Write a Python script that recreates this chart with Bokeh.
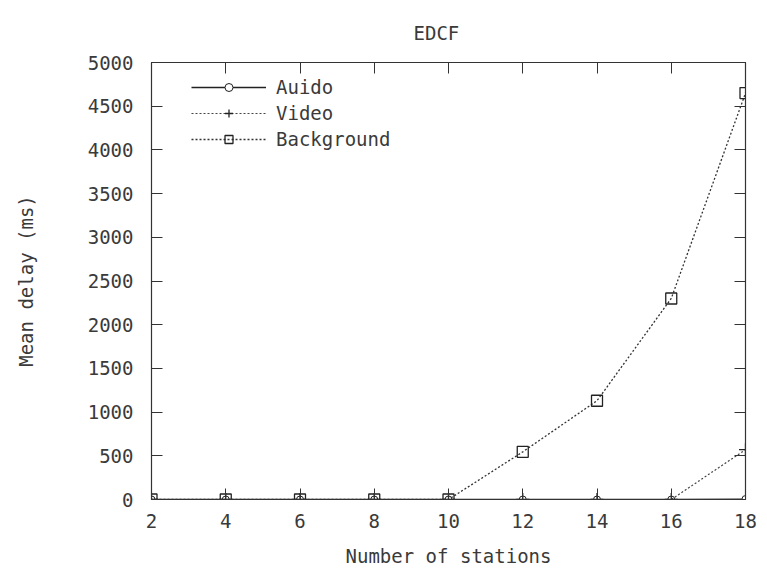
from bokeh.plotting import figure
from bokeh.models import Range1d, LinearAxis, Legend, LegendItem, FixedTicker
from bokeh.embed import file_html
from bokeh.resources import INLINE

stations = [2, 4, 6, 8, 10, 12, 14, 16, 18]
audio = [0, 0, 0, 0, 0, 0, 0, 0, 5]
video = [0, 0, 0, 0, 0, 0, 0, 0, 570]
background = [0, 0, 0, 0, 0, 545, 1130, 2300, 4650]
x_ticks = [2, 4, 6, 8, 10, 12, 14, 16, 18]
y_ticks = [0, 500, 1000, 1500, 2000, 2500, 3000, 3500, 4000, 4500, 5000]

FONT = "DejaVu Sans Mono"
TXT = "#3a3a3a"
AX = "#333333"

p = figure(width=767, height=574, output_backend="svg", toolbar_location=None,
           x_range=Range1d(2, 18), y_range=Range1d(0, 5000),
           min_border_left=151, min_border_right=22, min_border_top=0,
           min_border_bottom=75, title="EDCF")
p.title.align = "left"
p.title.text_font = FONT
p.title.text_font_size = "19px"
p.title.text_font_style = "normal"
p.title.text_color = TXT
p.title.offset = 262
p.title.standoff = 38

p.grid.visible = False
p.outline_line_color = AX
p.outline_line_width = 1.2
p.background_fill_color = "white"
p.border_fill_color = "white"

for ax in (p.xaxis[0], p.yaxis[0]):
    ax.major_label_text_font = FONT
    ax.major_label_text_font_size = "19px"
    ax.major_label_text_color = TXT
    ax.axis_label_text_font = FONT
    ax.axis_label_text_font_size = "19px"
    ax.axis_label_text_font_style = "normal"
    ax.axis_label_text_color = TXT
    ax.major_tick_in = 11
    ax.major_tick_out = 0
    ax.minor_tick_line_color = None
    ax.axis_line_color = AX
    ax.major_tick_line_color = AX

p.xaxis[0].ticker = FixedTicker(ticks=x_ticks)
p.yaxis[0].ticker = FixedTicker(ticks=y_ticks)
p.xaxis[0].axis_label = "Number of stations"
p.yaxis[0].axis_label = "Mean delay (ms)"
p.xaxis[0].major_label_standoff = 14
p.yaxis[0].major_label_standoff = 18
p.xaxis[0].axis_label_standoff = 14
p.yaxis[0].axis_label_standoff = 48

top = LinearAxis(ticker=FixedTicker(ticks=x_ticks),
                 major_label_overrides={t: "" for t in x_ticks},
                 major_label_text_font_size="1px", major_label_standoff=0,
                 major_tick_in=11, major_tick_out=0, minor_tick_line_color=None,
                 axis_line_color=AX, major_tick_line_color=AX)
right = LinearAxis(ticker=FixedTicker(ticks=y_ticks),
                   major_label_overrides={t: "" for t in y_ticks},
                   major_label_text_font_size="1px", major_label_standoff=0,
                   major_tick_in=11, major_tick_out=0, minor_tick_line_color=None,
                   axis_line_color=AX, major_tick_line_color=AX)
p.add_layout(top, "above")
p.add_layout(right, "right")

LC = "#222222"
a_line = p.line(stations, audio, line_color=LC, line_width=1.3)
a_mark = p.scatter(stations, audio, marker="circle", size=7, fill_color="white",
                   line_color=LC, line_width=1)
v_line = p.line(stations, video, line_color="#444444", line_width=1.2, line_dash="2 2")
v_mark = p.scatter(stations, video, marker="cross", size=13, line_color=LC, line_width=1.3)
b_line = p.line(stations, background, line_color="#333333", line_width=1.3, line_dash="2 2")
b_mark = p.scatter(stations, background, marker="square", size=11, fill_color=None,
                   line_color=LC, line_width=1.3)

legend = Legend(items=[
    LegendItem(label="Auido", renderers=[a_line, a_mark]),
    LegendItem(label="Video", renderers=[v_line, v_mark]),
    LegendItem(label="Background", renderers=[b_line, b_mark]),
], location=(40, 349))
legend.label_text_font = FONT
legend.label_text_font_size = "19px"
legend.label_text_color = TXT
legend.glyph_width = 75
legend.glyph_height = 20
legend.spacing = 4
legend.label_standoff = 10
legend.border_line_color = None
legend.background_fill_alpha = 0
p.add_layout(legend)

open("out.html", "w").write(file_html(p, INLINE))
